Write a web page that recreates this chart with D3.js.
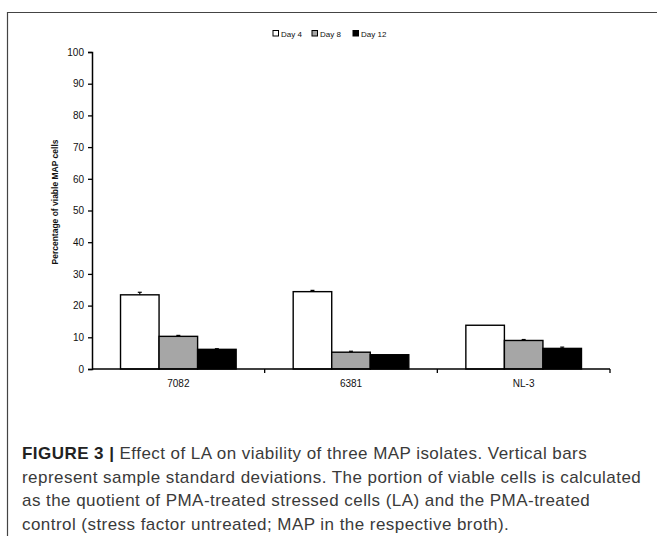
<!DOCTYPE html>
<html>
<head>
<meta charset="utf-8">
<script src="https://cdn.jsdelivr.net/npm/d3@7"></script>
<style>
  body { margin: 0; background: #fff; }
  svg { display: block; }
</style>
</head>
<body>
<div id="chart"></div>
<script>
// data
const isolates = ["7082", "6381", "NL-3"];
const days = ["Day 4", "Day 8", "Day 12"];
const day4 = [23.4, 24.4, 13.8];
const day8 = [10.3, 5.3, 9.0];
const day12 = [6.2, 4.5, 6.5];
const day4Sd = [0.8, 0.4, 0];
const day8Sd = [0.3, 0.3, 0.3];
const day12Sd = [0.2, 0, 0.4];
const yTicks = [0, 10, 20, 30, 40, 50, 60, 70, 80, 90, 100];
const captionLines = [
  "Effect of LA on viability of three MAP isolates. Vertical bars",
  "represent sample standard deviations. The portion of viable cells is calculated",
  "as the quotient of PMA-treated stressed cells (LA) and the PMA-treated",
  "control (stress factor untreated; MAP in the respective broth)."
];

const W = 657, H = 536;
const colors = {"Day 4": "#ffffff", "Day 8": "#a6a6a6", "Day 12": "#000000"};
const valuesBy = {"Day 4": day4, "Day 8": day8, "Day 12": day12};
const sdBy = {"Day 4": day4Sd, "Day 8": day8Sd, "Day 12": day12Sd};
const tickFont = "'Liberation Sans', Arial, sans-serif";

const svg = d3.select("#chart").append("svg")
  .attr("width", W)
  .attr("height", H);

// frame around figure (open to the right and bottom)
svg.append("path")
  .attr("d", `M7.5,${H + 2} V12.5 H${W + 2}`)
  .attr("fill", "none")
  .attr("stroke", "#444")
  .attr("stroke-width", 1.2);

const x0 = d3.scaleBand()
  .domain(isolates)
  .range([92, 610])
  .padding(0);

const x1 = d3.scaleBand()
  .domain(days)
  .range([0, x0.bandwidth()])
  .paddingInner(0)
  .paddingOuter(0.74);

const y = d3.scaleLinear()
  .domain([0, 100])
  .range([369, 52]);

// bars
const groups = svg.append("g").selectAll("g")
  .data(isolates)
  .join("g")
  .attr("transform", d => `translate(${x0(d)},0)`);

groups.selectAll("rect")
  .data((d, i) => days.map(k => ({key: k, value: valuesBy[k][i], sd: sdBy[k][i]})))
  .join("rect")
  .attr("x", d => x1(d.key))
  .attr("y", d => y(d.value))
  .attr("width", x1.bandwidth())
  .attr("height", d => y(0) - y(d.value))
  .attr("fill", d => colors[d.key])
  .attr("stroke", "#000")
  .attr("stroke-width", 1.4);

// error bars (upper half only, like the original)
const err = groups.selectAll("g.err")
  .data((d, i) => days.map(k => ({key: k, value: valuesBy[k][i], sd: sdBy[k][i]})).filter(d => d.sd > 0))
  .join("g")
  .attr("class", "err");

err.append("line")
  .attr("x1", d => x1(d.key) + x1.bandwidth() / 2)
  .attr("x2", d => x1(d.key) + x1.bandwidth() / 2)
  .attr("y1", d => y(d.value))
  .attr("y2", d => y(d.value + d.sd))
  .attr("stroke", "#000")
  .attr("stroke-width", 1.2);

err.append("line")
  .attr("x1", d => x1(d.key) + x1.bandwidth() / 2 - 2)
  .attr("x2", d => x1(d.key) + x1.bandwidth() / 2 + 2)
  .attr("y1", d => y(d.value + d.sd))
  .attr("y2", d => y(d.value + d.sd))
  .attr("stroke", "#000")
  .attr("stroke-width", 1.2);

// y axis
const yAxis = svg.append("g")
  .attr("transform", "translate(92,0)")
  .call(d3.axisLeft(y).tickValues(yTicks).tickSize(4).tickPadding(4));
yAxis.select(".domain").attr("stroke-width", 1.5);
yAxis.selectAll(".tick line").attr("stroke-width", 1.3);
yAxis.selectAll("text")
  .style("font-family", tickFont)
  .style("font-size", "10px")
  .attr("fill", "#111");

// x axis with ticks at category boundaries
svg.append("line")
  .attr("x1", 92).attr("x2", 610)
  .attr("y1", y(0)).attr("y2", y(0))
  .attr("stroke", "#000")
  .attr("stroke-width", 1.5);

svg.append("g").selectAll("line")
  .data(isolates)
  .join("line")
  .attr("x1", d => x0(d) + x0.bandwidth())
  .attr("x2", d => x0(d) + x0.bandwidth())
  .attr("y1", y(0))
  .attr("y2", y(0) + 4)
  .attr("stroke", "#000")
  .attr("stroke-width", 1.3);

svg.append("g").selectAll("text")
  .data(isolates)
  .join("text")
  .attr("x", d => x0(d) + x0.bandwidth() / 2)
  .attr("y", 387)
  .attr("text-anchor", "middle")
  .style("font-family", tickFont)
  .style("font-size", "10px")
  .attr("fill", "#111")
  .text(d => d);

// y axis title
svg.append("text")
  .attr("transform", "translate(58,202) rotate(-90)")
  .attr("text-anchor", "middle")
  .style("font-family", tickFont)
  .style("font-size", "8.5px")
  .style("font-weight", "bold")
  .attr("fill", "#111")
  .text("Percentage of viable MAP cells");

// legend
const legendX = [273, 312, 353];
const legend = svg.append("g").selectAll("g")
  .data(days)
  .join("g")
  .attr("transform", (d, i) => `translate(${legendX[i]},30.5)`);

legend.append("rect")
  .attr("width", 5.5)
  .attr("height", 5.5)
  .attr("fill", d => colors[d])
  .attr("stroke", "#000")
  .attr("stroke-width", 1);

legend.append("text")
  .attr("x", 8)
  .attr("y", 6)
  .style("font-family", tickFont)
  .style("font-size", "8px")
  .attr("fill", "#111")
  .text(d => d);

// caption
const caption = svg.append("g")
  .style("font-family", "'Liberation Sans', Arial, sans-serif")
  .style("font-size", "17px")
  .style("letter-spacing", "0.45px")
  .attr("fill", "#3a3a3a");

caption.selectAll("text")
  .data(captionLines)
  .join("text")
  .attr("x", 22)
  .attr("y", (d, i) => 459 + i * 23.7)
  .each(function(d, i) {
    const t = d3.select(this);
    if (i === 0) {
      t.append("tspan").style("font-weight", "bold").attr("fill", "#222").text("FIGURE 3 | ");
    }
    t.append("tspan").text(d);
  });
</script>
</body>
</html>
